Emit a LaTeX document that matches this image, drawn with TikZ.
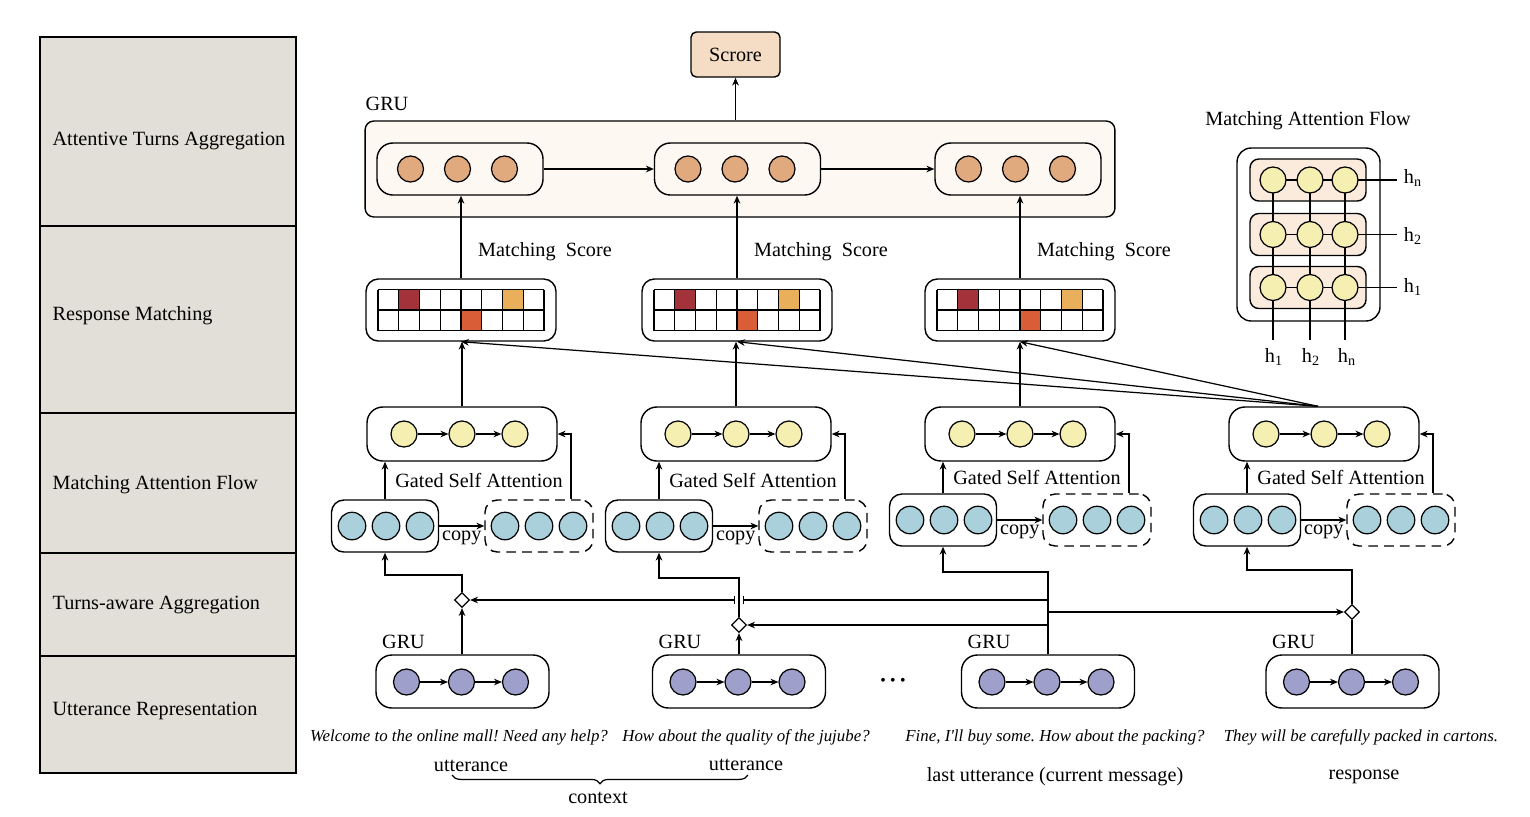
\documentclass[tikz,border=0pt]{standalone}
\usepackage{fontspec}
\setmainfont{Liberation Serif}
\usetikzlibrary{arrows.meta,shapes.geometric,decorations.pathreplacing,calc}
\frenchspacing
%Colours
\definecolor{panelgray}{HTML}{E2DFD9}
\definecolor{gruorange}{HTML}{E0A97E}
\definecolor{attyellow}{HTML}{F5EFB2}
\definecolor{embblue}{HTML}{AAD0DC}
\definecolor{uttpurple}{HTML}{9E9FCB}
\definecolor{scorefill}{HTML}{F5DCC4}
\definecolor{grufill}{HTML}{FDF8F1}
\definecolor{flowfill}{HTML}{FBEBDD}
\definecolor{celldark}{HTML}{A3323B}
\definecolor{cellorange}{HTML}{D95E37}
\definecolor{cellyellow}{HTML}{E9AF5A}
\tikzset{
	arr/.style={-{Stealth[length=4.5pt,width=3.8pt]}},
	unit/.style={circle,draw,line width=0.7pt,minimum size=0.52cm,inner sep=0pt},
	gruunit/.style={unit,fill=gruorange},
	attunit/.style={unit,fill=attyellow},
	embunit/.style={unit,fill=embblue,minimum size=0.55cm},
	uttunit/.style={unit,fill=uttpurple},
	flowunit/.style={attunit,path picture={\fill (path picture bounding box.center) circle (1.3pt);}},
	layer/.style={draw,line width=0.8pt,rounded corners=7pt,inner sep=0pt},
	copylayer/.style={layer,dash pattern=on 5.5pt off 3.5pt},
	gate/.style={diamond,draw,fill=white,line width=0.7pt,minimum size=0.3cm,inner sep=0pt}
}
\begin{document}
\begin{tikzpicture}[x=0.02cm,y=-0.02cm,line width=0.7pt,font=\fontsize{11.5}{13}\selectfont]
	\newcommand{\mysentfont}[1]{
		\fontsize{9.6}{11}\selectfont\itshape{#1}
	}
	\useasboundingbox (0,0) rectangle (1530,816);
	%Layer names on the left
	\draw[line width=0.9pt,fill=panelgray] (40,37) rectangle (296,773);
	\foreach \yl in {226,413,553,656} {
		\draw[line width=0.8pt] (40,\yl) -- (296,\yl);
	}
	\node[anchor=west,inner sep=0pt] (lay5) at (52,141) {Attentive Turns Aggregation};
	\node[anchor=west,inner sep=0pt] (lay4) at (52,316) {Response Matching};
	\node[anchor=west,inner sep=0pt] (lay3) at (52,485) {Matching Attention Flow};
	\node[anchor=west,inner sep=0pt] (lay2) at (52,605) {Turns-aware Aggregation};
	\node[anchor=west,inner sep=0pt] (lay1) at (52,711) {Utterance Representation};
	%Score and the top GRU
	\node[draw,line width=0.8pt,fill=scorefill,rounded corners=3pt,minimum width=1.78cm,minimum height=0.9cm] (score) at (735.5,54.5) {Scrore};
	\node (grulabel) at (387,104) {GRU};
	\node[draw,line width=0.8pt,fill=grufill,rounded corners=5pt,minimum width=15cm,minimum height=1.92cm] (grutop) at (740,169) {};
	\draw[arr] (grutop.north -| score.south) -- (score.south);
	\foreach \i/\xg in {1/460,2/737.5,3/1018} {
		\node[layer,rounded corners=9pt,minimum width=3.32cm,minimum height=1.04cm] (gru\i) at (\xg,169) {};
		\node[gruunit] (gru\i1) at (\xg-49.5,169) {};
		\node[gruunit] (gru\i2) at (\xg-2.5,169) {};
		\node[gruunit] (gru\i3) at (\xg+44.5,169) {};
	}
	\draw[arr] (gru1.east) -- (gru2.west);
	\draw[arr] (gru2.east) -- (gru3.west);
	%Matching attention flow, one column per utterance
	\foreach \i/\xa/\yb/\yg in {1/462/526/480,2/736/526/480,3/1020/520/477,4/1324/520/477} {
		\node[layer,rounded corners=9pt,minimum width=3.8cm,minimum height=1.08cm] (att\i) at (\xa,434) {};
		\node[attunit] (att\i1) at (\xa-58,434) {};
		\node[attunit] (att\i2) at (\xa,434) {};
		\node[attunit] (att\i3) at (\xa+53,434) {};
		\draw[arr] (att\i1) -- (att\i2);
		\draw[arr] (att\i2) -- (att\i3);
		%embeddings and their copy
		\node[layer,minimum width=2.14cm,minimum height=1.04cm] (emb\i) at (\xa-77,\yb) {};
		\node[copylayer,minimum width=2.16cm,minimum height=1.04cm] (cpy\i) at (\xa+77,\yb) {};
		\foreach \k/\dx in {1/0,2/34,3/68} {
			\node[embunit] (emb\i\k) at (\xa-110+\dx,\yb) {};
			\node[embunit] (cpy\i\k) at (\xa+43+\dx,\yb) {};
		}
		\draw[arr] (emb\i.east) -- (cpy\i.west) node[midway,below=-1pt] (cp\i) {copy};
		\draw[arr] (emb\i.north) -- (emb\i.north |- att\i.south);
		\draw[arr] ([xshift=0.64cm]cpy\i.north) |- (att\i.east);
		\node (gsa\i) at (\xa+17,\yg) {Gated Self Attention};
	}
	%Response matching
	\foreach \i/\xm in {1/461,2/737,3/1020} {
		\node[layer,minimum width=3.8cm,minimum height=1.24cm] (mat\i) at (\xm,310) {};
		\fill[celldark] (\xm-62.25,289.5) rectangle ++(20.75,20.5);
		\fill[cellyellow] (\xm+41.5,289.5) rectangle ++(20.75,20.5);
		\fill[cellorange] (\xm,310) rectangle ++(20.75,20.5);
		\foreach \k in {0,...,8} {
			\draw (\xm-83+\k*20.75,289.5) -- ++(0,41);
		}
		\foreach \r in {0,1,2} {
			\draw (\xm-83,289.5+\r*20.5) -- ++(166,0);
		}
		\draw[arr] (att\i.north) -- (att\i.north |- mat\i.south);
		\draw[arr] (mat\i.north) -- (mat\i.north |- gru\i.south);
		\node (ms\i) at (\xm+84,252) {Matching~ Score};
	}
	%Response attends every turn
	\coordinate (fan) at ([xshift=-0.12cm]att4.north);
	\foreach \i in {1,2,3} {
		\draw[arr] (fan) -- (mat\i.south);
	}
	%Utterance representation
	\foreach \i/\xu in {1/462.5,2/739,3/1048,4/1352.5} {
		\node[layer,rounded corners=9pt,minimum width=3.46cm,minimum height=1.06cm] (utt\i) at (\xu,681.5) {};
		\node[uttunit] (utt\i1) at (\xu-56,682) {};
		\node[uttunit] (utt\i2) at (\xu-1,682) {};
		\node[uttunit] (utt\i3) at (\xu+53,682) {};
		\draw[arr] (utt\i1) -- (utt\i2);
		\draw[arr] (utt\i2) -- (utt\i3);
		\node (grul\i) at (\xu-59,642) {GRU};
	}
	\node[inner sep=0pt] (dots) at (893,682) {\fontsize{9}{10}\selectfont\textbullet\hspace{2.5pt}\textbullet\hspace{2.5pt}\textbullet};
	%Turns-aware aggregation
	\node[gate] (d1) at (462,600) {};
	\node[gate] (d2) at (739,625) {};
	\node[gate] (d4) at (1352,612) {};
	\coordinate (t1) at (462,575);
	\coordinate (t2) at (739,578);
	\coordinate (t3) at (1048,572);
	\coordinate (t4) at (1352,570);
	\coordinate (hop) at (d2 |- d1);
	\draw[arr] (d1 |- utt1.north) -- (d1.south);
	\draw[arr] (d1.north) -- (t1) -| (emb1.south);
	\draw[arr] (d2 |- utt2.north) -- (d2.south);
	\draw[arr] (d2.north) -- (t2) -| (emb2.south);
	\draw[arr] (t3 |- utt3.north) -- (t3) -| (emb3.south);
	\draw[-{Bar[width=5pt]}] (t3 |- d1.east) -- ([xshift=0.08cm]hop);
	\draw[{Bar[width=5pt]}-{Stealth[length=4.5pt,width=3.8pt]}] ([xshift=-0.08cm]hop) -- (d1.east);
	\draw[arr] (t3 |- d4.west) -- (d4.west);
	\draw[arr] (t3 |- d2.east) -- (d2.east);
	\draw (d4 |- utt4.north) -- (d4.south);
	\draw[arr] (d4.north) -- (t4) -| (emb4.south);
	%The sentences
	\node (s1) at (459,737) {\mysentfont{Welcome to the online mall! Need any help?}};
	\node (s2) at (746,737) {\mysentfont{How about the quality of the jujube?}};
	\node (s3) at (1055,737) {\mysentfont{Fine, I\textquotesingle ll buy some. How about the packing?}};
	\node (s4) at (1361,737) {\mysentfont{They will be carefully packed in cartons.}};
	\node (u1) at (471,766) {utterance};
	\node (u2) at (746,765) {utterance};
	\draw[decorate,decoration={brace,mirror,amplitude=5pt}] (452,775) -- (748,775);
	\node (ctx) at (598,798) {context};
	\node (last) at (1055,777) {last utterance (current message)};
	\node (resp) at (1364,777) {response};
	%Matching attention flow, detail
	\node (maftitle) at (1308,121) {Matching Attention Flow};
	\node[layer,rounded corners=8pt,minimum width=2.86cm,minimum height=3.46cm] (mafbox) at (1308.5,234.5) {};
	\foreach \r/\yr in {1/287.5,2/234.5,3/180} {
		\node[layer,fill=flowfill,rounded corners=5pt,minimum width=2.32cm,minimum height=0.84cm] (row\r) at (1308,\yr) {};
	}
	\foreach \k/\xk in {1/1273,2/1310,3/1345} {
		\draw (\xk,180) -- (\xk,340);
	}
	\foreach \r/\yr in {1/287.5,2/234.5,3/180} {
		\draw (1273,\yr) -- (1397,\yr);
		\foreach \k/\xk in {1/1273,2/1310,3/1345} {
			\node[flowunit] (f\r\k) at (\xk,\yr) {};
		}
	}
	\node (hr3) at (1413,178) {h\textsubscript{n}};
	\node (hr2) at (1413,236) {h\textsubscript{2}};
	\node (hr1) at (1413,287) {h\textsubscript{1}};
	\node (hb1) at (1274,357) {h\textsubscript{1}};
	\node (hb2) at (1311,357) {h\textsubscript{2}};
	\node (hb3) at (1347,357) {h\textsubscript{n}};
\end{tikzpicture}
\end{document}
